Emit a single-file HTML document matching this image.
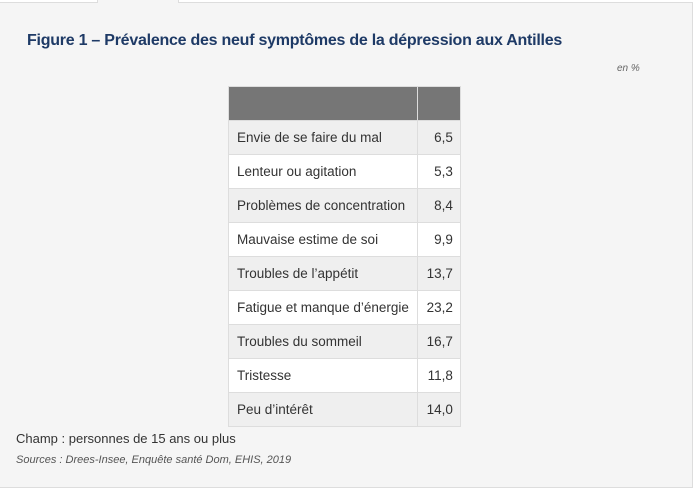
<!DOCTYPE html>
<html><head><meta charset="utf-8">
<style>
body{margin:0;width:696px;height:490px;background:#fff;font-family:"Liberation Sans",sans-serif;position:relative;overflow:hidden}
.frame{position:absolute;left:0;top:2px;width:692px;height:484px;background:#f5f5f5;border-right:1px solid #ddd;border-bottom:1px solid #ddd;border-top:1px solid #ddd}
.tab{position:absolute;left:97px;top:0;width:80px;height:3px;background:#f5f5f5;border-left:1px solid #ddd;border-right:1px solid #ddd}
.title{position:absolute;left:27px;top:32px;font-size:16px;font-weight:bold;color:#1e3a66;white-space:nowrap;letter-spacing:-0.25px}
.unit{position:absolute;left:617px;top:63px;font-size:10px;font-style:italic;color:#666}
table{position:absolute;left:228px;top:86px;border-collapse:collapse;font-size:13.5px;color:#333}
th{background:#767676;height:33px;border:1px solid #ddd;padding:0}
td{height:33px;border:1px solid #ddd;padding:0 8px;white-space:nowrap}
td.v{text-align:right;padding:0 7px}
tr:nth-child(odd) td{background:#efefef}
tr:nth-child(even) td{background:#fff}
.champ{position:absolute;left:16px;top:431px;font-size:13px;color:#333}
.src{position:absolute;left:16px;top:454px;font-size:11px;font-style:italic;color:#555}
</style></head><body>
<div class="frame"></div>
<div class="tab"></div>
<div class="title">Figure 1 – Prévalence des neuf symptômes de la dépression aux Antilles</div>
<div class="unit">en %</div>
<table>
<thead><tr><th style="width:187px"></th><th style="width:42px"></th></tr></thead>
<tbody id="tb"></tbody>
</table>
<div class="champ">Champ : personnes de 15 ans ou plus</div>
<div class="src">Sources : Drees-Insee, Enquête santé Dom, EHIS, 2019</div>
<script>
const categories=["Envie de se faire du mal","Lenteur ou agitation","Problèmes de concentration","Mauvaise estime de soi","Troubles de l’appétit","Fatigue et manque d’énergie","Troubles du sommeil","Tristesse","Peu d’intérêt"];
const values=[6.5,5.3,8.4,9.9,13.7,23.2,16.7,11.8,14.0];
const tb=document.getElementById('tb');
categories.forEach((c,i)=>{
  const tr=document.createElement('tr');
  
  
  const a=document.createElement('td');
  
  
  a.textContent=c;
  const b=document.createElement('td');
  b.className='v';
  
  
  b.textContent=values[i].toFixed(1).replace('.',',');
  tr.appendChild(a);tr.appendChild(b);tb.appendChild(tr);
});
</script>
</body></html>
